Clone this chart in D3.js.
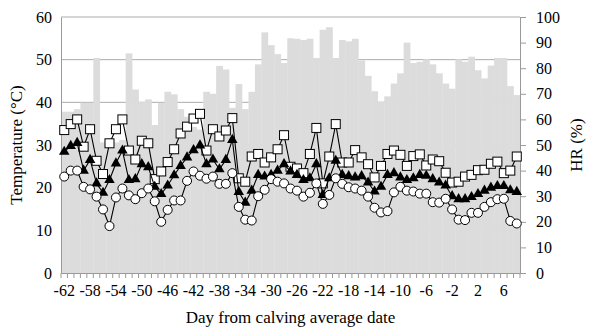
<!DOCTYPE html>
<html lang="en">
<head>
  <meta charset="UTF-8" />
  <title>Temperature and HR around calving</title>
  <style>
    html, body {
      margin: 0;
      padding: 0;
      background: #fff;
    }
    svg text {
      font-family: "Liberation Serif", "Times New Roman", serif;
      fill: #000;
    }
  </style>
</head>
<body>
<svg id="chart" width="600" height="330"></svg>

<script src="https://d3js.org/d3.v7.min.js"></script>
<script>
  // days from calving average date (-62 .. 8)
  const days = d3.range(-62, 9);
  const dayLabels = [-62, -58, -54, -50, -46, -42, -38, -34, -30, -26, -22, -18, -14, -10, -6, -2, 2, 6];

  // relative humidity (%), right axis
  const hr = [
    63, 63, 64, 66.5, 66.5, 84, 51, 50, 51, 52,
    85.8, 71.7, 66.9, 67.8, 57.8, 66.5, 70.8, 69.8, 64, 61,
    57, 56, 70.8, 70, 80.9, 79.5, 64.5, 73.8, 64, 70.8,
    81.5, 94, 89, 85.5, 82, 91.7, 91.5, 91, 91.5, 84,
    95, 96, 84, 91, 90.5, 91.5, 83, 77, 71, 67,
    69, 74, 78, 90, 82, 82.5, 83.5, 81.5, 78, 74,
    72, 83.5, 82.5, 84.5, 79.2, 76, 81, 84, 84, 73,
    69.5
  ];

  // maximum temperature (squares)
  const tMax = [
    33.5, 34.9, 36.0, 29.6, 33.7, 26.3, 23.2, 30.4, 33.7, 36.0,
    28.7, 26.6, 31.0, 30.4, 22.0, 23.8, 26.0, 29.0, 32.7, 34.3,
    36.2, 37.3, 28.7, 33.7, 32.0, 33.4, 36.3, 22.2, 21.4, 27.3,
    27.9, 25.9, 27.1, 29.0, 32.3, 24.9, 24.5, 23.4, 27.9, 34.0,
    21.0, 27.3, 34.9, 25.9, 25.9, 28.8, 27.1, 25.5, 22.4, 25.1,
    27.9, 28.7, 27.7, 25.1, 27.4, 27.8, 25.2, 26.6, 26.2, 23.5,
    21.2, 21.4, 22.6, 23.0, 24.1, 24.2, 25.6, 26.1, 23.4, 24.0,
    27.3
  ];

  // mean temperature (triangles)
  const tMean = [
    28.4, 29.8, 30.5, 24.0, 26.5, 21.0, 18.8, 21.8, 25.7, 28.7,
    21.8, 22.0, 25.5, 24.8, 20.2, 18.5, 20.5, 22.9, 25.1, 27.1,
    28.8, 29.9, 25.5, 26.6, 24.3, 26.5, 31.2, 19.0, 16.5, 19.3,
    23.0, 22.6, 23.0, 24.0, 25.5, 23.8, 23.0, 21.8, 22.2, 25.5,
    18.3, 22.2, 26.3, 23.0, 22.7, 22.4, 22.7, 21.2, 19.1, 20.2,
    23.0, 23.4, 22.4, 21.8, 22.2, 23.0, 22.8, 22.0, 21.2, 20.5,
    18.0, 17.3, 17.3, 17.8, 18.5, 19.3, 20.0, 20.4, 20.4, 19.4,
    19.0
  ];

  // minimum temperature (circles)
  const tMin = [
    22.6, 24.0, 24.0, 20.2, 19.6, 17.9, 14.9, 11.0, 17.7, 19.8,
    18.2, 17.3, 18.7, 19.8, 16.8, 12.0, 14.8, 17.0, 17.0, 21.6,
    23.8, 22.8, 22.1, 22.6, 20.9, 20.9, 23.4, 15.5, 12.5, 12.3,
    18.0, 19.5, 22.0, 21.4, 21.0, 19.8, 19.3, 17.9, 18.8, 21.0,
    16.2, 18.3, 22.2, 20.9, 20.1, 19.8, 19.3, 17.9, 15.3, 14.2,
    14.5, 18.9, 20.2, 19.3, 19.1, 18.6, 18.6, 16.6, 16.5, 17.4,
    14.9, 12.5, 12.4, 14.1, 14.1, 15.5, 16.6, 17.3, 17.4, 12.2,
    11.6
  ];

  const tempTicks = [0, 10, 20, 30, 40, 50, 60];
  const hrTicks = [0, 10, 20, 30, 40, 50, 60, 70, 80, 90, 100];

  const svg = d3.select("#chart");
  const margin = { top: 17, right: 80, bottom: 57, left: 61 };
  const width = 600 - margin.left - margin.right;
  const height = 330 - margin.top - margin.bottom;

  const g = svg.append("g")
    .attr("transform", `translate(${margin.left},${margin.top})`);

  const x = d3.scaleBand().domain(days).range([0, width]).padding(0);
  const y = d3.scaleLinear().domain([0, 60]).range([height, 0]);
  const y2 = d3.scaleLinear().domain([0, 100]).range([height, 0]);
  const cx = d => x(d) + x.bandwidth() / 2;

  // gridlines (behind the bars)
  g.append("g")
    .selectAll("line")
    .data(tempTicks.filter(t => t > 0))
    .enter().append("line")
    .attr("x1", 0).attr("x2", width)
    .attr("y1", d => y(d)).attr("y2", d => y(d))
    .attr("stroke", "#ababab")
    .attr("stroke-width", 1);

  // HR bars
  g.append("g")
    .selectAll("rect")
    .data(days)
    .enter().append("rect")
    .attr("x", d => x(d))
    .attr("width", x.bandwidth() + 0.3)
    .attr("y", (d, i) => y2(hr[i]))
    .attr("height", (d, i) => height - y2(hr[i]))
    .attr("fill", "#dcdcdc");

  // axes
  const leftAxis = g.append("g")
    .call(d3.axisLeft(y).tickValues(tempTicks).tickSize(0).tickPadding(9));
  const rightAxis = g.append("g")
    .attr("transform", `translate(${width},0)`)
    .call(d3.axisRight(y2).tickValues(hrTicks).tickSize(6).tickPadding(10));
  const bottomAxis = g.append("g")
    .attr("transform", `translate(0,${height})`)
    .call(d3.axisBottom(x).tickValues(dayLabels).tickSize(0).tickPadding(12));

  [leftAxis, rightAxis, bottomAxis].forEach(a => {
    a.select(".domain").attr("stroke", "#9a9a9a");
    a.selectAll(".tick line").attr("stroke", "#9a9a9a");
    a.selectAll("text")
      .style("font-family", '"Liberation Serif", serif')
      .style("font-size", "16px")
      .attr("fill", "#000");
  });

  // small tick marks between categories
  g.append("g")
    .selectAll("line")
    .data(days.map(d => x(d)).concat([width]))
    .enter().append("line")
    .attr("x1", d => d).attr("x2", d => d)
    .attr("y1", height).attr("y2", height + 5)
    .attr("stroke", "#9a9a9a");

  // series
  const series = [
    { values: tMax, shape: "square" },
    { values: tMean, shape: "triangle" },
    { values: tMin, shape: "circle" }
  ];

  const line = d3.line()
    .x(d => cx(d.day))
    .y(d => y(d.v));

  series.forEach(s => {
    const pts = days.map((d, i) => ({ day: d, v: s.values[i] }));
    const sg = g.append("g");

    sg.append("path")
      .datum(pts)
      .attr("fill", "none")
      .attr("stroke", "#000")
      .attr("stroke-width", 1.1)
      .attr("d", line);

    const marks = sg.selectAll(".pt")
      .data(pts)
      .enter();

    if (s.shape === "square") {
      marks.append("rect")
        .attr("x", d => cx(d.day) - 4.5)
        .attr("y", d => y(d.v) - 4.5)
        .attr("width", 9).attr("height", 9)
        .attr("fill", "#fff")
        .attr("stroke", "#000")
        .attr("stroke-width", 1);
    } else if (s.shape === "triangle") {
      marks.append("path")
        .attr("transform", d => `translate(${cx(d.day)},${y(d.v)})`)
        .attr("d", d3.symbol().type(d3.symbolTriangle).size(48))
        .attr("fill", "#000");
    } else {
      marks.append("circle")
        .attr("cx", d => cx(d.day))
        .attr("cy", d => y(d.v))
        .attr("r", 4.5)
        .attr("fill", "#fff")
        .attr("stroke", "#000")
        .attr("stroke-width", 1);
    }
  });

  // axis titles
  svg.append("text")
    .attr("transform", `translate(22,${margin.top + height / 2}) rotate(-90)`)
    .attr("text-anchor", "middle")
    .style("font-size", "17px")
    .text("Temperature (°C)");

  svg.append("text")
    .attr("transform", `translate(582,${margin.top + height / 2}) rotate(-90)`)
    .attr("text-anchor", "middle")
    .style("font-size", "17px")
    .text("HR (%)");

  svg.append("text")
    .attr("x", margin.left + width / 2)
    .attr("y", 323)
    .attr("text-anchor", "middle")
    .style("font-size", "17px")
    .text("Day from calving average date");
</script>
</body>
</html>
